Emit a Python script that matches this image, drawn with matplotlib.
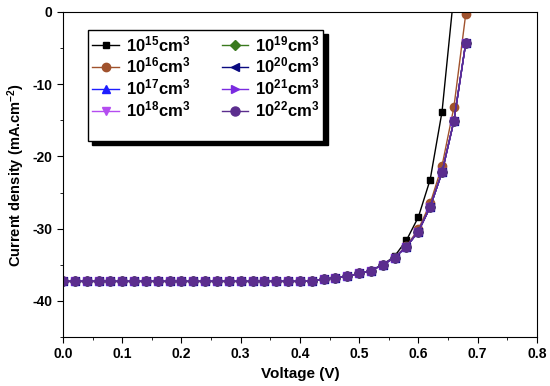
import matplotlib
matplotlib.use('Agg')
import matplotlib.pyplot as plt
import numpy as np
from matplotlib.lines import Line2D
from matplotlib.ticker import MultipleLocator

plt.rcParams['font.family'] = ['Liberation Sans', 'DejaVu Sans']
plt.rcParams['font.weight'] = 'bold'
plt.rcParams['axes.unicode_minus'] = False
plt.rcParams['mathtext.fontset'] = 'custom'
plt.rcParams['mathtext.rm'] = 'Liberation Sans:bold'
plt.rcParams['mathtext.bf'] = 'Liberation Sans:bold'
plt.rcParams['mathtext.it'] = 'Liberation Sans:bold'
plt.rcParams['mathtext.default'] = 'rm'

# voltage points (V)
voltage = [0.00, 0.02, 0.04, 0.06, 0.08, 0.10, 0.12, 0.14, 0.16, 0.18,
           0.20, 0.22, 0.24, 0.26, 0.28, 0.30, 0.32, 0.34, 0.36, 0.38,
           0.40, 0.42, 0.44, 0.46, 0.48, 0.50, 0.52, 0.54, 0.56, 0.58,
           0.60, 0.62, 0.64, 0.66, 0.68]

flat = [-37.3] * 20
# current density (mA/cm2) per doping level
j_1e15 = flat + [-37.3, -37.2, -37.0, -36.8, -36.6, -36.2, -35.8, -35.0, -33.8, -31.6,
                 -28.4, -23.2, -13.8, 2.5, 20.0]
j_1e16 = flat + [-37.3, -37.2, -37.0, -36.8, -36.6, -36.2, -35.8, -35.0, -34.0, -32.4,
                 -30.1, -26.5, -21.3, -13.2, -0.3]
j_1e17 = flat + [-37.3, -37.2, -37.0, -36.8, -36.6, -36.2, -35.8, -35.0, -34.0, -32.5,
                 -30.4, -27.0, -22.2, -15.1, -4.3]
j_1e18 = j_1e17
j_1e19 = j_1e17
j_1e20 = j_1e17
j_1e21 = j_1e17
j_1e22 = j_1e17

labels = [r'10$^{15}$cm$^{3}$', r'10$^{16}$cm$^{3}$', r'10$^{17}$cm$^{3}$',
          r'10$^{18}$cm$^{3}$', r'10$^{19}$cm$^{3}$', r'10$^{20}$cm$^{3}$',
          r'10$^{21}$cm$^{3}$', r'10$^{22}$cm$^{3}$']
series = [j_1e15, j_1e16, j_1e17, j_1e18, j_1e19, j_1e20, j_1e21, j_1e22]
colors = ['#000000', '#A0522D', '#1E1EFF', '#B44CF0', '#3A7A1E', '#0A0A80',
          '#7A2BE0', '#5B2D8E']
markers = ['s', 'o', '^', 'v', 'D', '<', '>', 'o']
sizes = [5, 6, 6, 6, 5, 6, 6, 6.5]

fig, ax = plt.subplots(figsize=(5.5, 3.86), dpi=100)
fig.subplots_adjust(left=0.1145, right=0.976, top=0.969, bottom=0.127)

handles = []
for y, lab, c, m, ms in zip(series, labels, colors, markers, sizes):
    h, = ax.plot(voltage, y, color=c, marker=m, markersize=ms, linewidth=1,
                 label=lab)
    handles.append(h)

blank = Line2D([], [], linestyle='none', marker='none')
leg_handles = handles[:4] + [blank] + handles[4:] + [blank]
leg_labels = labels[:4] + [''] + labels[4:] + ['']
leg = ax.legend(leg_handles, leg_labels, ncol=2, loc='upper left',
                bbox_to_anchor=(0.053, 0.945), borderaxespad=0, fontsize=12,
                frameon=True, fancybox=False, edgecolor='black', framealpha=1,
                shadow={'color': 'black', 'alpha': 1, 'ox': 3, 'oy': -3},
                handlelength=1.6, handletextpad=0.4, columnspacing=1.9,
                labelspacing=0.12, borderpad=0.25)
leg.get_frame().set_linewidth(1.0)

ax.set_xlim(0, 0.8)
ax.set_ylim(-45, 0)
ax.xaxis.set_major_locator(MultipleLocator(0.1))
ax.xaxis.set_minor_locator(MultipleLocator(0.05))
ax.yaxis.set_major_locator(MultipleLocator(10))
ax.yaxis.set_minor_locator(MultipleLocator(5))
ax.tick_params(which='both', direction='out', top=False, right=False,
               labelsize=10)
ax.tick_params(which='major', length=4)
ax.tick_params(which='minor', length=2.5)
ax.set_xticklabels([f'{v:.1f}' for v in ax.get_xticks()])

ax.set_xlabel('Voltage (V)', fontsize=11, fontweight='bold')
ax.set_ylabel(r'Current density (mA.cm$^{-2}$)', fontsize=10.5, fontweight='bold')

plt.savefig('out.png', dpi=100)
